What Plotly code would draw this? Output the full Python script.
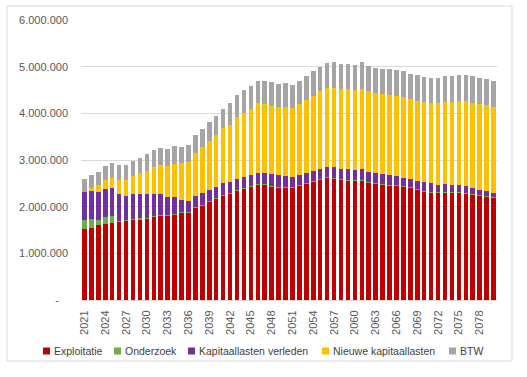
import plotly.graph_objects as go

years = list(range(2021, 2081))

exploitatie = [1.515, 1.545, 1.60, 1.63, 1.645, 1.68, 1.70, 1.715, 1.735, 1.755,
               1.785, 1.80, 1.815, 1.83, 1.865, 1.88, 1.975, 2.03, 2.10, 2.165,
               2.23, 2.28, 2.34, 2.38, 2.43, 2.48, 2.465, 2.44, 2.42, 2.415,
               2.40, 2.445, 2.49, 2.53, 2.575, 2.625, 2.595, 2.575, 2.57, 2.55,
               2.55, 2.525, 2.495, 2.48, 2.46, 2.445, 2.425, 2.40, 2.365, 2.325,
               2.305, 2.30, 2.31, 2.30, 2.30, 2.29, 2.27, 2.245, 2.225, 2.20]
onderzoek = [0.195, 0.185, 0.11, 0.14, 0.145] + [0.012] * 55
kap_verleden = [0.61, 0.60, 0.60, 0.61, 0.60, 0.59, 0.52, 0.535, 0.525, 0.505,
                0.485, 0.46, 0.375, 0.36, 0.265, 0.24, 0.24, 0.25, 0.25, 0.25,
                0.26, 0.245, 0.25, 0.25, 0.245, 0.23, 0.24, 0.24, 0.24, 0.235,
                0.23, 0.225, 0.22, 0.225, 0.225, 0.215, 0.235, 0.225, 0.23, 0.22,
                0.24, 0.205, 0.21, 0.20, 0.20, 0.20, 0.185, 0.18, 0.18, 0.19,
                0.18, 0.155, 0.165, 0.15, 0.145, 0.15, 0.125, 0.10, 0.095, 0.075]
nieuwe_kap = [0.0, 0.07, 0.145, 0.19, 0.23, 0.30, 0.35, 0.39, 0.44, 0.49,
              0.57, 0.615, 0.68, 0.72, 0.79, 0.835, 0.915, 0.98, 1.035, 1.10,
              1.175, 1.22, 1.32, 1.365, 1.415, 1.49, 1.475, 1.475, 1.465, 1.48,
              1.47, 1.52, 1.57, 1.61, 1.66, 1.695, 1.71, 1.70, 1.705, 1.71,
              1.73, 1.73, 1.72, 1.72, 1.72, 1.725, 1.73, 1.71, 1.71, 1.71,
              1.715, 1.745, 1.75, 1.78, 1.80, 1.815, 1.825, 1.835, 1.84, 1.855]
btw = [0.27, 0.28, 0.295, 0.31, 0.32, 0.32, 0.32, 0.32, 0.34, 0.36,
       0.37, 0.365, 0.35, 0.37, 0.35, 0.355, 0.385, 0.40, 0.415, 0.42,
       0.425, 0.455, 0.47, 0.485, 0.49, 0.49, 0.505, 0.495, 0.495, 0.505,
       0.495, 0.50, 0.51, 0.52, 0.53, 0.535, 0.54, 0.54, 0.545, 0.54,
       0.57, 0.55, 0.545, 0.54, 0.55, 0.545, 0.545, 0.545, 0.545, 0.55,
       0.545, 0.545, 0.56, 0.555, 0.555, 0.56, 0.56, 0.555, 0.57, 0.555]

series_names = ["Exploitatie", "Onderzoek", "Kapitaallasten verleden",
                "Nieuwe kapitaallasten", "BTW"]
series_vals = [exploitatie, onderzoek, kap_verleden, nieuwe_kap, btw]
colors = ["#C00000", "#70AD47", "#7030A0", "#FFC000", "#A5A5A5"]

y_tickvals = [0, 1e6, 2e6, 3e6, 4e6, 5e6, 6e6]
y_ticktext = ["-\u00a0\u00a0\u00a0", "1.000.000", "2.000.000", "3.000.000",
              "4.000.000", "5.000.000", "6.000.000"]
x_tickvals = list(range(2021, 2081, 3))

# plot area in pixels: x 81..497, y 20..300
L, R, T, B = 81, 497, 20, 300
def px(x):
    return (x - L) / (R - L)
def py(y):
    return (B - y) / (B - T)

fig = go.Figure()
for name, vals, c in zip(series_names, series_vals, colors):
    fig.add_trace(go.Bar(
        x=years, y=[v * 1e6 for v in vals], name=name,
        marker=dict(color=c, line=dict(width=0)),
    ))

font_family = "Liberation Sans, Arial, sans-serif"

# legend drawn as squares + text
legend_sq_x = [43, 114, 188, 322, 449]
shapes = [dict(type="rect", xref="paper", yref="paper",
               x0=px(7), x1=px(512), y0=py(361), y1=py(6),
               line=dict(color="#D9D9D9", width=1), layer="below")]
annotations = []
for name, c, sx in zip(series_names, colors, legend_sq_x):
    shapes.append(dict(type="rect", xref="paper", yref="paper",
                       x0=px(sx), x1=px(sx + 7), y0=py(354.5), y1=py(347.5),
                       fillcolor=c, line=dict(width=0)))
    annotations.append(dict(xref="paper", yref="paper", x=px(sx + 8.5), y=py(351),
                            xanchor="left", yanchor="middle", showarrow=False,
                            text=name, font=dict(size=10.5, color="#404040",
                                                 family=font_family)))

fig.update_layout(
    barmode="stack",
    bargap=0.35,
    width=527, height=377,
    margin=dict(l=L, r=527 - R, t=T, b=377 - B, autoexpand=False),
    paper_bgcolor="white",
    plot_bgcolor="white",
    font=dict(family=font_family, size=11, color="#595959"),
    showlegend=False,
    xaxis=dict(
        range=[2020.5, 2080.5], tickmode="array", tickvals=x_tickvals,
        ticktext=[str(v) for v in x_tickvals], tickangle=-90,
        showgrid=False, showline=True, linecolor="#D9D9D9", linewidth=1,
        ticks="", tickfont=dict(size=11, color="#595959"), zeroline=False,
        ticklabelstandoff=5, automargin=False,
    ),
    yaxis=dict(
        range=[0, 6e6], tickmode="array", tickvals=y_tickvals, ticktext=y_ticktext,
        showgrid=True, gridcolor="#D9D9D9", gridwidth=1, zeroline=False,
        showline=False, ticks="", tickfont=dict(size=11, color="#595959"),
        ticklabelstandoff=12, automargin=False,
    ),
    shapes=shapes,
    annotations=annotations,
)

fig.write_html("out.html",
               config={"displayModeBar": False},
               post_script="document.body.style.margin='0';document.body.style.padding='0';")
